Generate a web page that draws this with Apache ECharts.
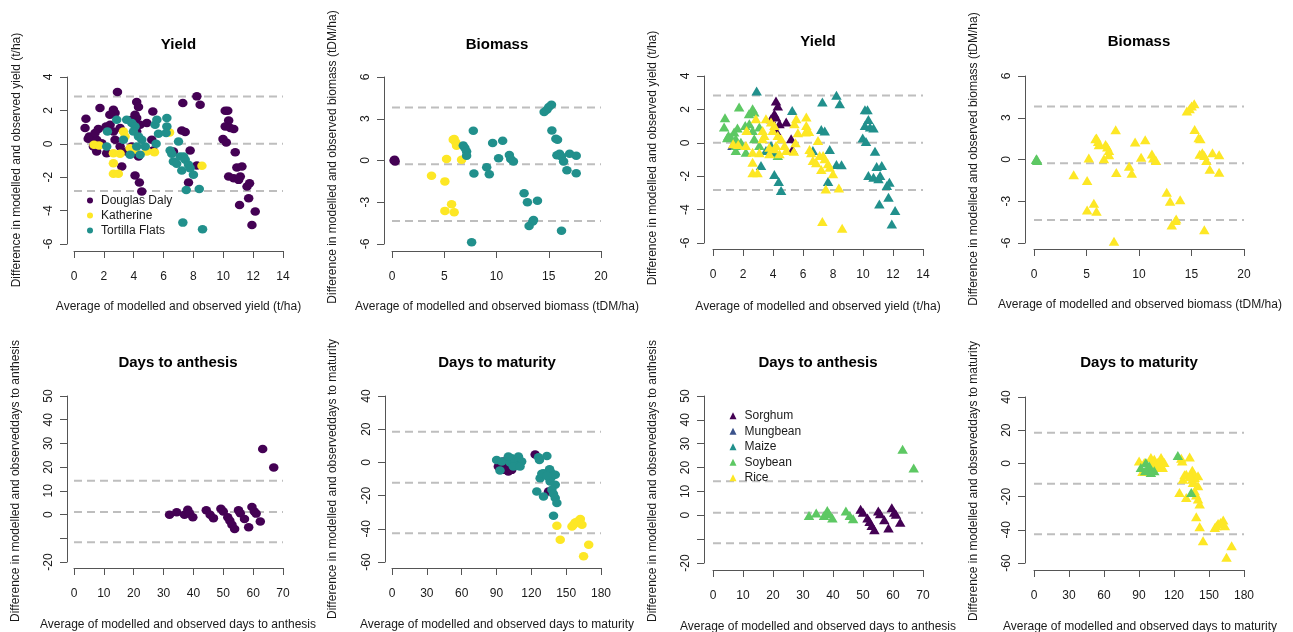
<!DOCTYPE html>
<html>
<head>
<meta charset="utf-8">
<script src="https://cdn.jsdelivr.net/npm/echarts@6/dist/echarts.min.js"></script>
<style>
html,body{margin:0;padding:0;background:#fff;}
#chart{width:1293px;height:632px;}
</style>
</head>
<body>
<div id="chart"></div>
<script>
// ---------------- DATA ----------------
const siteNames = ['Douglas Daly', 'Katherine', 'Tortilla Flats'];
const cropNames = ['Sorghum', 'Mungbean', 'Maize', 'Soybean', 'Rice'];
const siteColors = ['#440154', '#FDE725', '#21908C'];
const cropColors = ['#440154', '#3B528B', '#21908C', '#5DC863', '#FDE725'];

// rows: [average, difference, siteIndex, cropIndex]
const yieldPoints = [
  [2.91,3.10,0,2],[0.80,1.50,0,3],[0.74,0.94,0,3],[1.74,2.14,0,3],[2.64,2.04,0,3],[2.75,1.84,0,3],[2.40,1.74,0,3],
  [1.03,0.44,0,3],[1.19,0.34,0,3],[1.52,0.24,0,3],[1.63,0.88,0,3],[1.41,0.64,0,3],[1.52,-0.46,0,3],[2.19,-0.56,0,3],
  [1.52,-0.16,0,3],[2.15,1.04,0,3],[2.42,1.14,0,3],[2.64,0.74,0,3],[2.75,0.24,0,3],[3.09,0.94,0,3],[1.86,0.04,0,3],
  [0.95,0.30,0,3],[1.30,-0.16,0,1],[3.09,-0.16,0,3],[4.32,-0.76,0,3],
  [3.20,-1.36,0,2],[5.28,1.94,0,2],[3.87,-0.16,0,2],[4.09,-0.56,0,2],[3.53,-0.46,0,2],[4.09,-1.90,0,2],[4.38,-2.32,0,2],[4.54,-2.86,0,2],
  [4.20,2.50,0,0],[4.32,2.20,0,0],[4.09,1.74,0,0],[3.87,1.44,0,0],[4.20,1.54,0,0],[4.43,1.14,0,0],[4.88,1.24,0,0],[4.20,0.74,0,0],[5.21,0.24,0,0],[5.30,-0.40,0,0],
  [7.29,2.44,0,2],[8.23,2.84,0,2],[8.45,2.34,0,2],[7.22,0.80,0,2],[7.45,0.70,0,2],[7.78,-0.40,0,2],[7.67,-2.32,0,2],[8.23,-1.30,0,2],[6.66,-0.46,0,2],
  [10.13,1.98,0,2],[10.30,1.98,0,2],[10.36,1.40,0,2],[10.13,1.04,0,2],[10.47,0.94,0,2],[10.70,0.88,0,2],[9.98,0.28,0,2],[10.20,0.08,0,2],[10.80,-0.50,0,2],
  [10.91,-1.42,0,2],[11.25,-1.36,0,2],[10.36,-1.96,0,2],[10.70,-2.06,0,2],[11.03,-2.16,0,2],[11.14,-1.96,0,2],[11.59,-2.56,0,2],[11.76,-2.36,0,2],
  [11.09,-3.66,0,2],[11.70,-3.26,0,2],[12.14,-4.06,0,2],[11.92,-4.86,0,2],
  [1.34,-0.06,1,4],[1.68,-0.10,1,4],[2.64,-0.56,1,4],[2.64,-1.16,1,4],[2.64,-1.80,1,4],[2.97,-1.80,1,4],[3.31,0.74,1,4],
  [3.42,0.44,1,4],[3.09,-0.60,1,4],[3.76,-0.26,1,4],[4.09,-0.36,1,4],[4.88,-0.46,1,4],[5.39,-0.50,1,4],[6.40,0.68,1,4],[8.57,-1.32,1,2],
  [2.24,0.74,2,4],[2.86,1.44,2,4],[3.53,1.44,2,4],[2.19,-0.16,2,4],[3.31,0.24,2,4],[3.87,1.24,2,4],[4.09,1.04,2,4],[3.98,0.74,2,4],
  [4.32,0.44,2,4],[4.54,0.24,2,4],[4.20,-0.16,2,4],[3.76,-0.66,2,4],[4.43,-0.66,2,4],[4.77,-0.16,2,4],[5.43,1.14,2,4],[5.55,1.44,2,4],
  [5.50,0.00,2,4],[5.66,0.60,2,4],[6.22,1.54,2,4],[6.22,1.04,2,4],[6.17,0.64,2,4],[6.44,-0.40,2,4],[6.55,-0.60,2,4],[6.66,-1.06,2,4],
  [6.88,-1.20,2,4],[7.00,0.14,2,4],[7.11,-0.76,2,4],[7.34,-0.76,2,4],[7.45,-0.96,2,4],[7.22,-1.60,2,4],[7.67,-1.26,2,4],[7.78,-1.46,2,4],
  [8.00,-1.86,2,4],[7.52,-2.76,2,4],[8.39,-2.70,2,4],[7.29,-4.72,2,4],[8.61,-5.12,2,4]
];

const biomassPoints = [
  [0.20,0.00,0,3],[0.30,-0.08,0,3],[0.25,0.06,0,3],
  [3.78,-1.10,1,4],[5.06,-1.50,1,4],[5.22,0.10,1,4],[5.86,1.50,1,4],[5.95,1.54,1,4],[6.11,1.30,1,4],[6.18,1.06,1,4],
  [6.66,0.05,1,4],[5.70,-3.14,1,4],[5.06,-3.62,1,4],[5.95,-3.72,1,4],
  [6.82,1.08,2,4],[6.98,0.89,2,4],[7.14,0.65,2,4],[7.14,0.34,2,4],[7.78,2.14,2,4],[7.84,-0.94,2,4],[7.62,-5.88,2,4],
  [9.06,-0.48,2,4],[9.31,-0.98,2,4],[9.63,1.25,2,4],[10.59,1.42,2,4],[10.20,0.17,2,4],[11.23,0.40,2,4],[11.36,0.10,2,4],
  [11.62,-0.07,2,4],[12.64,-2.35,2,4],[12.96,-3.00,2,4],[13.92,-2.90,2,4],[13.12,-4.70,2,4],[13.47,-4.39,2,4],[13.54,-4.27,2,4],
  [14.56,3.48,2,4],[14.82,3.65,2,4],[15.01,3.84,2,4],[15.26,4.00,2,4],[15.30,2.16,2,4],[15.68,1.56,2,4],[15.84,1.49,2,4],
  [15.78,0.38,2,4],[16.22,0.29,2,4],[16.42,-0.07,2,4],[16.74,-0.70,2,4],[17.00,0.48,2,4],[17.63,0.34,2,4],[17.63,-0.91,2,4],
  [16.22,-5.04,2,4],[16.03,0.48,2,4]
];

const anthesisPoints = [
  [32.0,-0.1,0,3],[34.4,1.0,0,3],[37.0,-0.1,0,3],[38.1,2.0,0,3],[38.7,0.6,0,3],[39.8,-1.1,0,3],[44.3,1.8,0,3],[45.6,-0.1,0,3],[46.7,-1.5,0,3],
  [49.2,2.5,0,0],[50.0,1.3,0,0],[51.5,-1.1,0,0],[52.2,-2.6,0,0],[52.9,-4.3,0,0],[53.8,-6.1,0,0],[55.1,1.8,0,0],[55.7,0.6,0,0],
  [57.1,-1.9,0,0],[58.5,-5.3,0,0],[59.6,3.2,0,0],[60.4,1.3,0,0],[61.0,0.4,0,0],[62.4,-2.9,0,0],
  [63.2,27.7,0,3],[66.9,19.8,0,3]
];

const maturityPoints = [
  [91.6,-2.5,0,3],[95.9,0.5,0,3],[97.4,-4.1,0,3],[100.2,-5.5,0,3],[103.1,-4.5,0,3],[98.8,-1.5,0,3],[95.3,-4.5,0,3],[123.3,4.7,0,3],[134.8,-17.5,0,3],
  [90.1,1.5,2,4],[93.0,-4.9,2,4],[94.5,0.5,2,4],[101.7,-0.1,2,4],[103.1,2.5,2,4],[106.0,0.5,2,4],[108.9,3.5,2,4],[109.7,1.1,2,4],
  [111.7,0.5,2,4],[107.4,-2.1,2,4],[104.5,-2.5,2,4],[110.3,-2.5,2,4],[100.2,3.5,2,4],
  [126.2,3.1,2,4],[127.0,1.5,2,4],[133.4,3.9,2,4],[127.6,-9.5,2,4],[129.0,-6.9,2,4],[130.5,-6.5,2,4],[124.7,-17.5,2,4],[130.5,-20.5,2,4],
  [135.7,-4.1,2,4],[136.8,-6.1,2,4],[137.7,-8.5,2,4],[135.7,-9.5,2,4],[140.6,-7.5,2,4],[136.2,-11.5,2,4],[140.6,-13.5,2,4],[137.7,-16.5,2,4],
  [139.1,-19.1,2,4],[140.6,-21.5,2,4],[142.0,-24.5,2,4],[139.1,-32.1,2,4],[133.4,-8.1,2,4],
  [142.0,-38.2,1,4],[144.9,-46.6,1,4],[155.0,-38.6,1,4],[156.4,-37.6,1,4],[157.8,-36.2,1,4],[159.9,-35.6,1,4],[162.2,-34.1,1,4],
  [163.6,-37.6,1,4],[165.0,-56.6,1,4],[169.4,-49.6,1,4]
];

// mean and limits of agreement
const yieldLimits = [2.83, 0, -2.83];
const biomassLimits = [3.8, -0.27, -4.34];
const anthesisLimits = [14.3, 1.1, -11.7];
const maturityLimits = [18.5, -12.2, -42.7];

// axis scales: [min, max, interval]
const yieldXScale = [0, 14, 2], yieldYScale = [-6, 4, 2];
const biomassXScale = [0, 20, 5], biomassYScale = [-6, 6, 3];
const anthesisXScale = [0, 70, 10], anthesisYScale = [-20, 50, 10];
const maturityXScale = [0, 180, 30], maturityYScale = [-60, 40, 20];
const anthesisHiddenYLabels = [-10];

const titles = ['Yield', 'Biomass', 'Days to anthesis', 'Days to maturity'];
const xTitles = ['Average of modelled and observed yield (t/ha)', 'Average of modelled and observed biomass (tDM/ha)',
  'Average of modelled and observed days to anthesis', 'Average of modelled and observed days to maturity'];
const yTitles = ['Difference in modelled and observed yield (t/ha)', 'Difference in modelled and observed biomass (tDM/ha)',
  'Difference in modelled and observeddays to anthesis', 'Difference in modelled and observeddays to maturity'];

// ---------------- LAYOUT ----------------
const FONT = '"Liberation Sans", Arial, Helvetica, sans-serif';
const AXIS_COLOR = '#555';
const TEXT_COLOR = '#1a1a1a';

const panels = [
  {pts: yieldPoints, by: 2, order: [0,1,2], sym: 'circle', lim: yieldLimits, xs: yieldXScale, ys: yieldYScale, k: 0,
   g: {l: 74, t: 77, w: 209, h: 167, xo: 7, yo: 7}, tp: [178.5, 45], xp: [178.5, 307], yp: [17, 160]},
  {pts: biomassPoints, by: 2, order: [0,1,2], sym: 'circle', lim: biomassLimits, xs: biomassXScale, ys: biomassYScale, k: 1,
   g: {l: 392, t: 77, w: 209, h: 167, xo: 7, yo: 8}, tp: [497, 45], xp: [497, 307], yp: [333, 157]},
  {pts: yieldPoints, by: 3, order: [2,1,0,3,4], sym: 'triangle', lim: yieldLimits, xs: yieldXScale, ys: yieldYScale, k: 0,
   g: {l: 713, t: 76, w: 210, h: 167, xo: 6, yo: 9}, tp: [818, 42], xp: [818, 307], yp: [653, 158]},
  {pts: biomassPoints, by: 3, order: [3,4,0,1,2], sym: 'triangle', lim: biomassLimits, xs: biomassXScale, ys: biomassYScale, k: 1,
   g: {l: 1034, t: 76, w: 210, h: 167, xo: 6, yo: 9}, tp: [1139, 42], xp: [1140, 305], yp: [974, 159]},
  {pts: anthesisPoints, by: 2, order: [0,1,2], sym: 'circle', lim: anthesisLimits, xs: anthesisXScale, ys: anthesisYScale, k: 2,
   g: {l: 74, t: 396, w: 209, h: 166, xo: 6, yo: 7}, tp: [178, 363], xp: [178, 625], yp: [16, 481]},
  {pts: maturityPoints, by: 2, order: [0,2,1], sym: 'circle', lim: maturityLimits, xs: maturityXScale, ys: maturityYScale, k: 3,
   g: {l: 392, t: 396, w: 209, h: 166, xo: 6, yo: 7}, tp: [497, 363], xp: [497, 625], yp: [333, 479]},
  {pts: anthesisPoints, by: 3, order: [0,1,2,3,4], sym: 'triangle', lim: anthesisLimits, xs: anthesisXScale, ys: anthesisYScale, k: 2,
   g: {l: 713, t: 396, w: 210, h: 167, xo: 7, yo: 9}, tp: [818, 363], xp: [818, 627], yp: [653, 481]},
  {pts: maturityPoints, by: 3, order: [4,3,0,1,2], sym: 'triangle', lim: maturityLimits, xs: maturityXScale, ys: maturityYScale, k: 3,
   g: {l: 1034, t: 397, w: 210, h: 166, xo: 7, yo: 9}, tp: [1139, 363], xp: [1140, 627], yp: [974, 481]}
];

const grids = [], xAxes = [], yAxes = [], series = [], graphics = [];

panels.forEach((p, i) => {
  grids.push({left: p.g.l, top: p.g.t, width: p.g.w, height: p.g.h, containLabel: false});
  const axisCommon = {
    type: 'value', gridIndex: i,
    axisLine: {show: true, onZero: false, lineStyle: {color: AXIS_COLOR, width: 1}},
    axisTick: {show: true, inside: false, length: 7, lineStyle: {color: AXIS_COLOR, width: 1}},
    splitLine: {show: false}
  };
  xAxes.push(Object.assign({}, axisCommon, {
    position: 'bottom', offset: p.g.xo, min: p.xs[0], max: p.xs[1], interval: p.xs[2],
    axisLabel: {margin: 20, color: TEXT_COLOR, fontSize: 12, fontFamily: FONT, showMinLabel: true, showMaxLabel: true}
  }));
  const hidden = p.k === 2 ? anthesisHiddenYLabels : [];
  yAxes.push(Object.assign({}, axisCommon, {
    position: 'left', offset: p.g.yo, min: p.ys[0], max: p.ys[1], interval: p.ys[2],
    axisLabel: {margin: 12, rotate: 90, color: TEXT_COLOR, fontSize: 12, fontFamily: FONT, showMinLabel: true, showMaxLabel: true,
      formatter: v => hidden.indexOf(v) >= 0 ? '' : String(v)}
  }));
  // limits of agreement (dashed)
  p.lim.forEach(v => {
    series.push({
      type: 'line', xAxisIndex: i, yAxisIndex: i, silent: true, animation: false,
      symbol: 'none', data: [[p.xs[0], v], [p.xs[1], v]],
      lineStyle: {color: '#BEBEBE', width: 2, type: [8, 5]}, z: 1
    });
  });
  const names = p.by === 2 ? siteNames : cropNames;
  const colors = p.by === 2 ? siteColors : cropColors;
  p.order.forEach(c => {
    series.push({
      type: 'scatter', name: names[c], xAxisIndex: i, yAxisIndex: i, silent: true, animation: false, clip: false,
      symbol: p.sym, symbolSize: p.sym === 'circle' ? [9.5, 8.5] : [10.5, 9],
      itemStyle: {color: colors[c], opacity: 1},
      data: p.pts.filter(r => r[p.by] === c).map(r => [r[0], r[1]]),
      z: 3
    });
  });
  graphics.push({type: 'text', x: p.tp[0], y: p.tp[1], silent: true,
    style: {text: titles[p.k], font: 'bold 15px ' + FONT, fill: '#000', align: 'center', verticalAlign: 'middle', textAlign: 'center', textVerticalAlign: 'middle'}});
  graphics.push({type: 'text', x: p.xp[0], y: p.xp[1], silent: true,
    style: {text: xTitles[p.k], font: '12px ' + FONT, fill: TEXT_COLOR, align: 'center', verticalAlign: 'middle', textAlign: 'center', textVerticalAlign: 'middle'}});
  graphics.push({type: 'text', x: p.yp[0], y: p.yp[1], rotation: Math.PI / 2, silent: true,
    style: {text: yTitles[p.k], font: '12px ' + FONT, fill: TEXT_COLOR, align: 'center', verticalAlign: 'middle', textAlign: 'center', textVerticalAlign: 'middle'}});
});

const chart = echarts.init(document.getElementById('chart'), null, {renderer: 'canvas'});
chart.setOption({
  backgroundColor: '#ffffff',
  animation: false,
  grid: grids,
  xAxis: xAxes,
  yAxis: yAxes,
  series: series,
  graphic: graphics,
  legend: [
    {data: siteNames, left: 82, top: 188, orient: 'vertical', icon: 'circle', itemWidth: 12, itemHeight: 6, itemGap: 0,
     selectedMode: false, textStyle: {fontSize: 12, fontFamily: FONT, color: TEXT_COLOR, lineHeight: 15}},
    {data: cropNames, left: 724.5, top: 403, orient: 'vertical', icon: 'triangle', itemWidth: 7, itemHeight: 7, itemGap: 0,
     selectedMode: false, textStyle: {fontSize: 12, fontFamily: FONT, color: TEXT_COLOR, lineHeight: 15.5, padding: [0, 0, 0, 3]}}
  ]
});
</script>
</body>
</html>
